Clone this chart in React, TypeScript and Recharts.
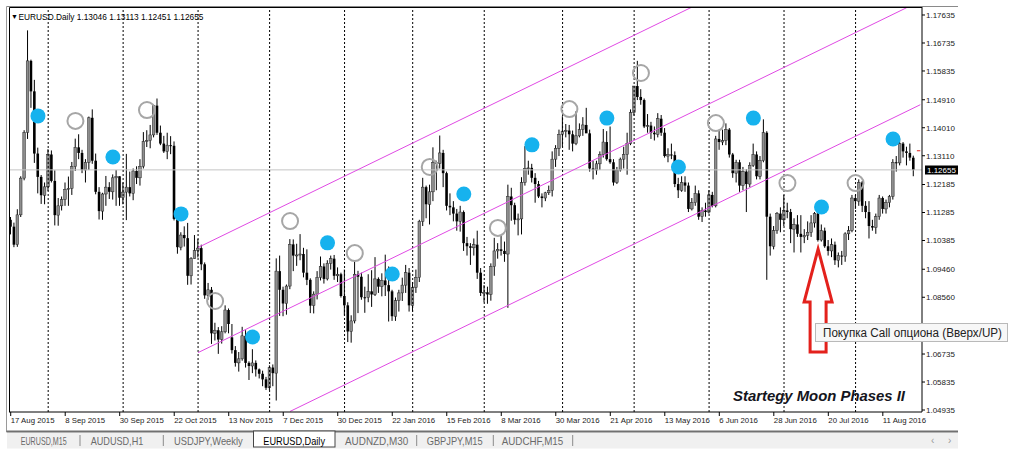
import React from 'react';
import {
  ComposedChart,
  Bar,
  XAxis,
  YAxis,
  ReferenceLine,
  ReferenceDot,
} from 'recharts';

type Ohlc = [number, number, number, number];

// EURUSD daily candles, open / high / low / close
const AUG_2015: Ohlc[] = [
  [1.1105, 1.1114, 1.1058, 1.1083], [1.1083, 1.1096, 1.1017, 1.1025], [1.1025, 1.1139, 1.1018, 1.1121],
  [1.1121, 1.1245, 1.1114, 1.1239], [1.1239, 1.1393, 1.1232, 1.1386], [1.1386, 1.1714, 1.1365, 1.1616],
  [1.1616, 1.1620, 1.1465, 1.1518], [1.1518, 1.1555, 1.1288, 1.1318], [1.1318, 1.1337, 1.1190, 1.1243],
  [1.1243, 1.1249, 1.1156, 1.1184], [1.1184, 1.1225, 1.1155, 1.1211],
];
const SEP_2015: Ohlc[] = [
  [1.1211, 1.1332, 1.1198, 1.1315], [1.1315, 1.1328, 1.1225, 1.1230], [1.1230, 1.1264, 1.1087, 1.1120],
  [1.1120, 1.1175, 1.1086, 1.1150], [1.1150, 1.1180, 1.1135, 1.1170], [1.1170, 1.1225, 1.1150, 1.1203],
  [1.1203, 1.1244, 1.1150, 1.1206], [1.1206, 1.1291, 1.1185, 1.1276], [1.1276, 1.1366, 1.1262, 1.1338],
  [1.1338, 1.1380, 1.1300, 1.1320], [1.1320, 1.1330, 1.1255, 1.1265], [1.1265, 1.1300, 1.1225, 1.1290],
  [1.1290, 1.1437, 1.1265, 1.1433], [1.1433, 1.1460, 1.1285, 1.1295], [1.1295, 1.1318, 1.1187, 1.1195],
  [1.1195, 1.1210, 1.1106, 1.1133], [1.1133, 1.1192, 1.1105, 1.1188], [1.1188, 1.1246, 1.1150, 1.1210],
  [1.1210, 1.1226, 1.1172, 1.1195], [1.1195, 1.1251, 1.1170, 1.1240], [1.1240, 1.1265, 1.1150, 1.1245],
  [1.1245, 1.1245, 1.1150, 1.1176],
];
const OCT_2015: Ohlc[] = [
  [1.1176, 1.1225, 1.1155, 1.1194], [1.1194, 1.1317, 1.1104, 1.1210], [1.1210, 1.1260, 1.1180, 1.1190],
  [1.1190, 1.1270, 1.1168, 1.1262], [1.1262, 1.1277, 1.1220, 1.1240], [1.1240, 1.1300, 1.1215, 1.1277],
  [1.1277, 1.1387, 1.1270, 1.1357], [1.1357, 1.1393, 1.1339, 1.1360], [1.1360, 1.1410, 1.1335, 1.1378],
  [1.1378, 1.1475, 1.1370, 1.1472], [1.1472, 1.1495, 1.1378, 1.1385], [1.1385, 1.1408, 1.1345, 1.1350],
  [1.1350, 1.1375, 1.1320, 1.1325], [1.1325, 1.1385, 1.1300, 1.1345], [1.1345, 1.1374, 1.1316, 1.1343],
  [1.1343, 1.1357, 1.1103, 1.1108], [1.1108, 1.1113, 1.0996, 1.1017], [1.1017, 1.1065, 1.1007, 1.1056],
  [1.1056, 1.1084, 1.1019, 1.1046], [1.1046, 1.1095, 1.0896, 1.0925], [1.0925, 1.0985, 1.0897, 1.0980],
  [1.0980, 1.1056, 1.0980, 1.1006],
];
const NOV_2015: Ohlc[] = [
  [1.1006, 1.1043, 1.0984, 1.1014], [1.1014, 1.1025, 1.0943, 1.0962], [1.0962, 1.0968, 1.0851, 1.0862],
  [1.0862, 1.0902, 1.0848, 1.0880], [1.0880, 1.0889, 1.0706, 1.0740], [1.0740, 1.0774, 1.0717, 1.0750],
  [1.0750, 1.0760, 1.0674, 1.0720], [1.0720, 1.0763, 1.0707, 1.0745], [1.0745, 1.0830, 1.0740, 1.0815],
  [1.0815, 1.0820, 1.0740, 1.0770], [1.0727, 1.0770, 1.0675, 1.0686], [1.0686, 1.0699, 1.0633, 1.0645],
  [1.0645, 1.0680, 1.0617, 1.0658], [1.0658, 1.0761, 1.0652, 1.0732], [1.0732, 1.0750, 1.0630, 1.0645],
  [1.0645, 1.0650, 1.0590, 1.0635], [1.0635, 1.0689, 1.0612, 1.0645], [1.0645, 1.0653, 1.0601, 1.0624],
  [1.0624, 1.0627, 1.0595, 1.0610], [1.0610, 1.0620, 1.0570, 1.0592], [1.0592, 1.0600, 1.0558, 1.0565],
];
const DEC_2015: Ohlc[] = [
  [1.0565, 1.0637, 1.0557, 1.0630], [1.0630, 1.0640, 1.0570, 1.0612], [1.0612, 1.0981, 1.0524, 1.0940],
  [1.0940, 1.0990, 1.0796, 1.0880], [1.0880, 1.0890, 1.0795, 1.0836], [1.0836, 1.0897, 1.0800, 1.0892],
  [1.0892, 1.1043, 1.0882, 1.1026], [1.1026, 1.1042, 1.0940, 1.0990], [1.0990, 1.1028, 1.0957, 1.0992],
  [1.0992, 1.1059, 1.0975, 1.0995], [1.0995, 1.1015, 1.0920, 1.0935], [1.0935, 1.1010, 1.0895, 1.0912],
  [1.0912, 1.0917, 1.0805, 1.0829], [1.0829, 1.0875, 1.0804, 1.0866], [1.0866, 1.0940, 1.0849, 1.0920],
  [1.0920, 1.0987, 1.0910, 1.0955], [1.0955, 1.0965, 1.0900, 1.0915], [1.0915, 1.0975, 1.0910, 1.0965],
  [1.0965, 1.0990, 1.0945, 1.0980], [1.0980, 1.0992, 1.0912, 1.0925], [1.0925, 1.0952, 1.0905, 1.0930],
  [1.0930, 1.0935, 1.0855, 1.0860],
];
const JAN_2016: Ohlc[] = [
  [1.0860, 1.0945, 1.0797, 1.0830], [1.0830, 1.0840, 1.0712, 1.0746], [1.0746, 1.0798, 1.0710, 1.0780],
  [1.0780, 1.0971, 1.0772, 1.0930], [1.0930, 1.0941, 1.0805, 1.0922], [1.0922, 1.0935, 1.0848, 1.0856],
  [1.0856, 1.0890, 1.0806, 1.0855], [1.0855, 1.0930, 1.0840, 1.0875], [1.0875, 1.0943, 1.0825, 1.0865],
  [1.0865, 1.0985, 1.0860, 1.0915], [1.0915, 1.0920, 1.0870, 1.0890], [1.0890, 1.0933, 1.0859, 1.0910],
  [1.0910, 1.0993, 1.0860, 1.0895], [1.0895, 1.0955, 1.0778, 1.0875], [1.0875, 1.0880, 1.0780, 1.0795],
  [1.0795, 1.0855, 1.0780, 1.0845], [1.0845, 1.0880, 1.0810, 1.0870], [1.0870, 1.0919, 1.0844, 1.0895],
  [1.0895, 1.0960, 1.0870, 1.0935], [1.0935, 1.0950, 1.0810, 1.0830],
];
const FEB_2016: Ohlc[] = [
  [1.0830, 1.0905, 1.0810, 1.0887], [1.0887, 1.0945, 1.0870, 1.0920], [1.0920, 1.1105, 1.0905, 1.1100],
  [1.1100, 1.1240, 1.1085, 1.1210], [1.1210, 1.1215, 1.1110, 1.1155], [1.1155, 1.1218, 1.1090, 1.1195],
  [1.1195, 1.1338, 1.1165, 1.1290], [1.1290, 1.1295, 1.1200, 1.1286], [1.1286, 1.1376, 1.1270, 1.1320],
  [1.1320, 1.1330, 1.1210, 1.1255], [1.1255, 1.1260, 1.1135, 1.1150], [1.1150, 1.1190, 1.1120, 1.1145],
  [1.1145, 1.1165, 1.1100, 1.1125], [1.1125, 1.1140, 1.1070, 1.1100], [1.1100, 1.1150, 1.1067, 1.1130],
  [1.1130, 1.1135, 1.1005, 1.1030], [1.1030, 1.1050, 1.0990, 1.1020], [1.1020, 1.1030, 1.0960, 1.1015],
  [1.1015, 1.1045, 1.0990, 1.1025], [1.1025, 1.1070, 1.0915, 1.0935], [1.0935, 1.0950, 1.0860, 1.0870],
];
const MAR_2016: Ohlc[] = [
  [1.0870, 1.0895, 1.0840, 1.0872], [1.0872, 1.0890, 1.0835, 1.0865], [1.0865, 1.0965, 1.0845, 1.0955],
  [1.0955, 1.1047, 1.0925, 1.1005], [1.1005, 1.1030, 1.0980, 1.1010], [1.1010, 1.1055, 1.0990, 1.1005],
  [1.1005, 1.1035, 1.0970, 1.0995], [1.0995, 1.1218, 1.0822, 1.1180], [1.1180, 1.1208, 1.1102, 1.1152],
  [1.1152, 1.1160, 1.1090, 1.1105], [1.1105, 1.1125, 1.1055, 1.1108], [1.1108, 1.1242, 1.1058, 1.1225],
  [1.1225, 1.1342, 1.1215, 1.1270], [1.1270, 1.1295, 1.1250, 1.1272], [1.1272, 1.1285, 1.1225, 1.1240],
  [1.1240, 1.1255, 1.1160, 1.1220], [1.1220, 1.1230, 1.1175, 1.1180], [1.1180, 1.1190, 1.1145, 1.1175],
  [1.1175, 1.1195, 1.1165, 1.1192], [1.1192, 1.1215, 1.1185, 1.1200], [1.1200, 1.1325, 1.1180, 1.1300],
  [1.1300, 1.1345, 1.1275, 1.1335], [1.1335, 1.1395, 1.1310, 1.1380],
];
const APR_2016: Ohlc[] = [
  [1.1380, 1.1438, 1.1340, 1.1390], [1.1390, 1.1413, 1.1370, 1.1392], [1.1392, 1.1410, 1.1330, 1.1380],
  [1.1380, 1.1392, 1.1325, 1.1350], [1.1350, 1.1454, 1.1345, 1.1375], [1.1375, 1.1415, 1.1370, 1.1395],
  [1.1395, 1.1435, 1.1375, 1.1410], [1.1410, 1.1465, 1.1385, 1.1383], [1.1383, 1.1395, 1.1260, 1.1270],
  [1.1270, 1.1295, 1.1235, 1.1265], [1.1265, 1.1295, 1.1250, 1.1285], [1.1285, 1.1325, 1.1265, 1.1315],
  [1.1315, 1.1397, 1.1305, 1.1355], [1.1355, 1.1390, 1.1295, 1.1300], [1.1300, 1.1405, 1.1285, 1.1290],
  [1.1290, 1.1300, 1.1215, 1.1225], [1.1225, 1.1275, 1.1220, 1.1265], [1.1265, 1.1305, 1.1260, 1.1300],
  [1.1300, 1.1340, 1.1270, 1.1315], [1.1315, 1.1385, 1.1250, 1.1350], [1.1350, 1.1460, 1.1345, 1.1450],
];
const MAY_2016: Ohlc[] = [
  [1.1450, 1.1535, 1.1440, 1.1535], [1.1535, 1.1616, 1.1490, 1.1500], [1.1500, 1.1525, 1.1475, 1.1490],
  [1.1490, 1.1495, 1.1400, 1.1405], [1.1405, 1.1445, 1.1385, 1.1408], [1.1408, 1.1420, 1.1365, 1.1385],
  [1.1385, 1.1405, 1.1360, 1.1380], [1.1380, 1.1448, 1.1370, 1.1430], [1.1430, 1.1442, 1.1375, 1.1385],
  [1.1385, 1.1400, 1.1305, 1.1310], [1.1310, 1.1335, 1.1290, 1.1315], [1.1315, 1.1350, 1.1300, 1.1313],
  [1.1313, 1.1325, 1.1210, 1.1220], [1.1220, 1.1240, 1.1175, 1.1200], [1.1200, 1.1245, 1.1195, 1.1225],
  [1.1225, 1.1245, 1.1195, 1.1215], [1.1215, 1.1225, 1.1130, 1.1140], [1.1140, 1.1175, 1.1135, 1.1160],
  [1.1160, 1.1215, 1.1150, 1.1190], [1.1190, 1.1200, 1.1105, 1.1115], [1.1115, 1.1145, 1.1098, 1.1135],
  [1.1135, 1.1160, 1.1115, 1.1130],
];
const JUN_2016: Ohlc[] = [
  [1.1130, 1.1200, 1.1125, 1.1185], [1.1185, 1.1195, 1.1145, 1.1150], [1.1150, 1.1375, 1.1145, 1.1365],
  [1.1365, 1.1395, 1.1330, 1.1355], [1.1355, 1.1395, 1.1345, 1.1360], [1.1360, 1.1415, 1.1345, 1.1395],
  [1.1395, 1.1400, 1.1305, 1.1315], [1.1315, 1.1320, 1.1240, 1.1255], [1.1255, 1.1298, 1.1225, 1.1290],
  [1.1290, 1.1298, 1.1195, 1.1215], [1.1215, 1.1275, 1.1200, 1.1260], [1.1260, 1.1268, 1.1130, 1.1220],
  [1.1220, 1.1290, 1.1210, 1.1280], [1.1280, 1.1350, 1.1275, 1.1315], [1.1315, 1.1325, 1.1235, 1.1245],
  [1.1245, 1.1310, 1.1235, 1.1295], [1.1295, 1.1428, 1.1290, 1.1385], [1.1385, 1.1390, 1.0912, 1.1115],
  [1.1115, 1.1125, 1.0990, 1.1020], [1.1020, 1.1085, 1.1010, 1.1070], [1.1070, 1.1130, 1.1060, 1.1125],
  [1.1125, 1.1145, 1.1065, 1.1105],
];
const JUL_2016: Ohlc[] = [
  [1.1105, 1.1185, 1.1085, 1.1135], [1.1135, 1.1160, 1.1110, 1.1130], [1.1130, 1.1140, 1.1030, 1.1075],
  [1.1075, 1.1110, 1.1000, 1.1090], [1.1090, 1.1120, 1.1050, 1.1060], [1.1060, 1.1120, 1.1000, 1.1050],
  [1.1050, 1.1075, 1.1030, 1.1055], [1.1055, 1.1100, 1.1040, 1.1065], [1.1065, 1.1120, 1.1050, 1.1095],
  [1.1095, 1.1130, 1.1080, 1.1125], [1.1125, 1.1130, 1.1035, 1.1040], [1.1040, 1.1090, 1.1035, 1.1070],
  [1.1070, 1.1080, 1.1015, 1.1020], [1.1020, 1.1040, 1.0990, 1.1005], [1.1005, 1.1045, 1.0985, 1.1025],
  [1.1025, 1.1035, 1.0960, 1.0975], [1.0975, 1.1000, 1.0952, 1.0990], [1.0990, 1.1005, 1.0960, 1.0988],
  [1.0988, 1.1065, 1.0970, 1.1060], [1.1060, 1.1085, 1.1040, 1.1070], [1.1070, 1.1185, 1.1065, 1.1175],
];
const AUG_2016: Ohlc[] = [
  [1.1175, 1.1185, 1.1140, 1.1165], [1.1165, 1.1235, 1.1150, 1.1225], [1.1225, 1.1230, 1.1130, 1.1150],
  [1.1150, 1.1165, 1.1110, 1.1130], [1.1130, 1.1165, 1.1045, 1.1085], [1.1085, 1.1105, 1.1070, 1.1080],
  [1.1080, 1.1125, 1.1060, 1.1115], [1.1115, 1.1185, 1.1105, 1.1175], [1.1175, 1.1180, 1.1125, 1.1140],
  [1.1140, 1.1170, 1.1125, 1.1160], [1.1160, 1.1185, 1.1145, 1.1180], [1.1180, 1.1300, 1.1170, 1.1290],
  [1.1290, 1.1310, 1.1260, 1.1288], [1.1288, 1.1366, 1.1280, 1.1350], [1.1350, 1.1355, 1.1305, 1.1325],
  [1.1325, 1.1340, 1.1280, 1.1320], [1.1320, 1.1350, 1.1295, 1.1305], [1.13046, 1.13113, 1.12451, 1.12655],
];

const MONTHS = [
  AUG_2015, SEP_2015, OCT_2015, NOV_2015, DEC_2015, JAN_2016, FEB_2016,
  MAR_2016, APR_2016, MAY_2016, JUN_2016, JUL_2016, AUG_2016,
];

const DATE_LABELS = [
  '17 Aug 2015', '8 Sep 2015', '30 Sep 2015', '22 Oct 2015', '13 Nov 2015', '7 Dec 2015',
  '30 Dec 2015', '22 Jan 2016', '15 Feb 2016', '8 Mar 2016', '30 Mar 2016', '21 Apr 2016',
  '13 May 2016', '6 Jun 2016', '28 Jun 2016', '20 Jul 2016', '11 Aug 2016',
];
const LABEL_STEP = 16;

const PRICE_TICKS = [
  1.04935, 1.05835, 1.06735, 1.0766, 1.0856, 1.0946, 1.10385, 1.11285,
  1.12185, 1.1311, 1.1401, 1.1491, 1.15835, 1.16735, 1.17635,
];
const PRICE_DOMAIN = [1.04871, 1.17892];
const BID = 1.12655;
const ASK_MARK = 1.1327;

// moon phases: bar index + price of the marker
const FULL_MOON_BARS = [8, 30, 50, 71, 93, 112, 133, 153, 175, 196, 218, 238, 259];
const FULL_MOON_PRICES = [1.1439, 1.1307, 1.1124, 1.0728, 1.1031, 1.0931, 1.1188, 1.1346, 1.1432, 1.1275, 1.1432, 1.1146, 1.1365];
const NEW_MOON_BARS = [19, 40, 60, 82, 101, 123, 143, 164, 185, 207, 228, 248];
const NEW_MOON_PRICES = [1.1423, 1.1458, 1.0844, 1.1101, 1.0998, 1.1275, 1.1079, 1.1461, 1.1577, 1.1416, 1.1223, 1.1223];

// channel lines [bar, price] -> [bar, price]
const CHANNEL = [
  [[55, 1.1016], [200, 1.1789]],
  [[55, 1.0678], [263, 1.1787]],
  [[82, 1.0489], [267, 1.1475]],
];

const SIGNAL_BAR = 237;
const SIGNAL_PRICE = 1.1011;
const EXTRA_SLOTS = 2;

const TABS = [
  { name: 'EURUSD,M15', x: 20.7, w: 46 },
  { name: 'AUDUSD,H1', x: 90.7, w: 52.6 },
  { name: 'USDJPY,Weekly', x: 174, w: 68.7 },
  { name: 'EURUSD,Daily', x: 263.3, w: 61.7, active: true },
  { name: 'AUDNZD,M30', x: 345, w: 63.3 },
  { name: 'GBPJPY,M15', x: 426.7, w: 56 },
  { name: 'AUDCHF,M15', x: 501.7, w: 61.6 },
];
const TAB_SEPARATORS = [80, 163.3, 416.7, 493.3, 572.7];

const bars = MONTHS.flat();
const rows: Record<string, unknown>[] = bars.map(([o, h, l, c], i) => ({ i, o, h, l, c, range: [l, h] }));
for (let k = 0; k < EXTRA_SLOTS; k++) rows.push({ i: bars.length + k });

const monthStarts: number[] = [];
MONTHS.reduce((acc, m, idx) => {
  if (idx > 0) monthStarts.push(acc);
  return acc + m.length;
}, 0);

const labelBars = DATE_LABELS.map((_, k) => k * LABEL_STEP);

function Candle(props: any) {
  const { x, y, width, height, payload } = props;
  if (!payload || payload.o == null) return null;
  const { o, h, l, c } = payload;
  const top = Math.min(y, y + height);
  const span = Math.abs(height);
  const k = h === l ? 0 : span / (h - l);
  const yO = top + (h - o) * k;
  const yC = top + (h - c) * k;
  const cx = x + width / 2;
  const bull = c > o;
  const bodyTop = Math.min(yO, yC);
  const bodyH = Math.max(1, Math.abs(yO - yC));
  return (
    <g>
      <line x1={cx} x2={cx} y1={top} y2={top + span} stroke="#000" strokeWidth={1} />
      <rect
        x={cx - 1.3}
        y={bodyTop}
        width={2.6}
        height={bodyH}
        fill={bull ? '#8e8e8e' : '#000'}
        stroke={bull ? '#222' : 'none'}
        strokeWidth={0.5}
      />
    </g>
  );
}

function DateTick(props: any) {
  const { x, y, payload } = props;
  const label = DATE_LABELS[Math.round(payload.value / LABEL_STEP)];
  return (
    <g>
      <line x1={x} x2={x} y1={y} y2={y + 4} stroke="#000" />
      <text x={x} y={y + 11} fontSize={7.8} fill="#222" textAnchor="start">
        {label}
      </text>
    </g>
  );
}

function UpArrow(props: any) {
  const { cx, cy } = props;
  if (cx == null || cy == null) return null;
  const pts = [
    [0, 0], [14, 53], [8, 53], [8, 103], [-8, 103], [-8, 53], [-14, 53],
  ].map(([dx, dy]) => `${cx + dx},${cy + dy}`).join(' ');
  return <polygon points={pts} fill="none" stroke="#e3211c" strokeWidth={3} strokeLinejoin="miter" />;
}

export default function App() {
  return (
    <div
      style={{
        position: 'absolute',
        left: 0,
        top: 0,
        width: 1016,
        height: 458,
        background: '#fff',
        fontFamily: '"Liberation Sans", Arial, sans-serif',
      }}
    >
      <ComposedChart
        width={1016}
        height={458}
        data={rows}
        margin={{ top: 7, right: 0, bottom: 0, left: 9 }}
        barCategoryGap={0}
      >
        <XAxis
          dataKey="i"
          type="category"
          ticks={labelBars}
          interval={0}
          tick={<DateTick />}
          tickLine={false}
          tickSize={0}
          tickMargin={0}
          height={46}
          axisLine={{ stroke: '#000' }}
        />
        <YAxis
          orientation="right"
          width={94}
          domain={PRICE_DOMAIN}
          allowDataOverflow
          ticks={PRICE_TICKS}
          interval={0}
          tickFormatter={(v: number) => v.toFixed(5)}
          tick={{ fontSize: 8, fill: '#222' }}
          tickSize={3}
          tickMargin={1}
          tickLine={{ stroke: '#000' }}
          axisLine={{ stroke: '#000' }}
        />
        <ReferenceLine y={BID} stroke="#c4c4c4" strokeWidth={1} />
        {monthStarts.map((b) => (
          <ReferenceLine key={`m${b}`} x={b} stroke="#000" strokeDasharray="2 2" strokeWidth={1} />
        ))}
        <Bar dataKey="range" barSize={3} isAnimationActive={false} shape={(p: any) => <Candle {...p} />} />
        {CHANNEL.map(([a, b], k) => (
          <ReferenceLine
            key={`ch${k}`}
            segment={[{ x: a[0], y: a[1] }, { x: b[0], y: b[1] }]}
            stroke="#e04ae4"
            strokeWidth={1}
            ifOverflow="visible"
          />
        ))}
        <ReferenceLine
          segment={[{ x: bars.length, y: ASK_MARK }, { x: bars.length + 1, y: ASK_MARK }]}
          stroke="#e3211c"
          strokeWidth={1}
        />
        {NEW_MOON_BARS.map((b, k) => (
          <ReferenceDot
            key={`n${b}`}
            x={b}
            y={NEW_MOON_PRICES[k]}
            r={8}
            fill="none"
            stroke="#a6a6a6"
            strokeWidth={2}
          />
        ))}
        {FULL_MOON_BARS.map((b, k) => (
          <ReferenceDot key={`f${b}`} x={b} y={FULL_MOON_PRICES[k]} r={7.5} fill="#16b2ee" stroke="none" />
        ))}
        <ReferenceDot x={SIGNAL_BAR} y={SIGNAL_PRICE} r={1} shape={(p: any) => <UpArrow {...p} />} />
      </ComposedChart>

      <svg
        width={1016}
        height={458}
        style={{ position: 'absolute', left: 0, top: 0, pointerEvents: 'none' }}
      >
        {/* window frame */}
        <line x1={6.5} x2={958} y1={6.5} y2={6.5} stroke="#8a8a8a" />
        <line x1={6.5} x2={6.5} y1={6.5} y2={432} stroke="#9a9a9a" />
        <line x1={9.5} x2={922} y1={7.5} y2={7.5} stroke="#000" />
        <line x1={9.5} x2={9.5} y1={7.5} y2={412} stroke="#000" />

        {/* header */}
        <text x={11} y={19} fontSize={7} fill="#000">▼</text>
        <text x={18.5} y={19.5} fontSize={8.5} fill="#000" textLength={185} lengthAdjust="spacingAndGlyphs">
          EURUSD.Daily  1.13046 1.13113 1.12451 1.12655
        </text>

        {/* bid price label */}
        <rect x={925} y={165.5} width={33} height={9} fill="#000" />
        <text x={927} y={173} fontSize={8} fill="#fff">1.12655</text>

        {/* strategy title */}
        <text
          x={733}
          y={401}
          fontSize={15}
          fontWeight="bold"
          fontStyle="italic"
          fill="#151520"
          textLength={172}
          lengthAdjust="spacingAndGlyphs"
        >
          Startegy Moon Phases II
        </text>

        {/* hover hint */}
        <rect x={815.5} y={323.5} width={192} height={18} fill="#f7f7f7" stroke="#b9b9b9" />
        <text x={823} y={337} fontSize={12} fill="#222" textLength={179} lengthAdjust="spacingAndGlyphs">
          Покупка Call опциона (Вверх/UP)
        </text>

        {/* tab bar */}
        <rect x={7} y={432.5} width={951} height={16} fill="#f0f0f0" />
        <line x1={6.5} x2={958} y1={431.5} y2={431.5} stroke="#707070" strokeWidth={2} />
        {TABS.map((t) => (
          <g key={t.name}>
            {t.active && <rect x={253.5} y={431} width={81.5} height={16} fill="#fff" stroke="#444" />}
            <text
              x={t.x}
              y={444.5}
              fontSize={11}
              fill={t.active ? '#000' : '#6a6a6a'}
              textLength={t.w}
              lengthAdjust="spacingAndGlyphs"
            >
              {t.name}
            </text>
          </g>
        ))}
        {TAB_SEPARATORS.map((x) => (
          <line key={x} x1={x} x2={x} y1={435} y2={446} stroke="#8a8a8a" />
        ))}
        <text x={931} y={444} fontSize={10} fill="#999">‹</text>
        <text x={948} y={444} fontSize={10} fill="#999">›</text>
      </svg>
    </div>
  );
}
